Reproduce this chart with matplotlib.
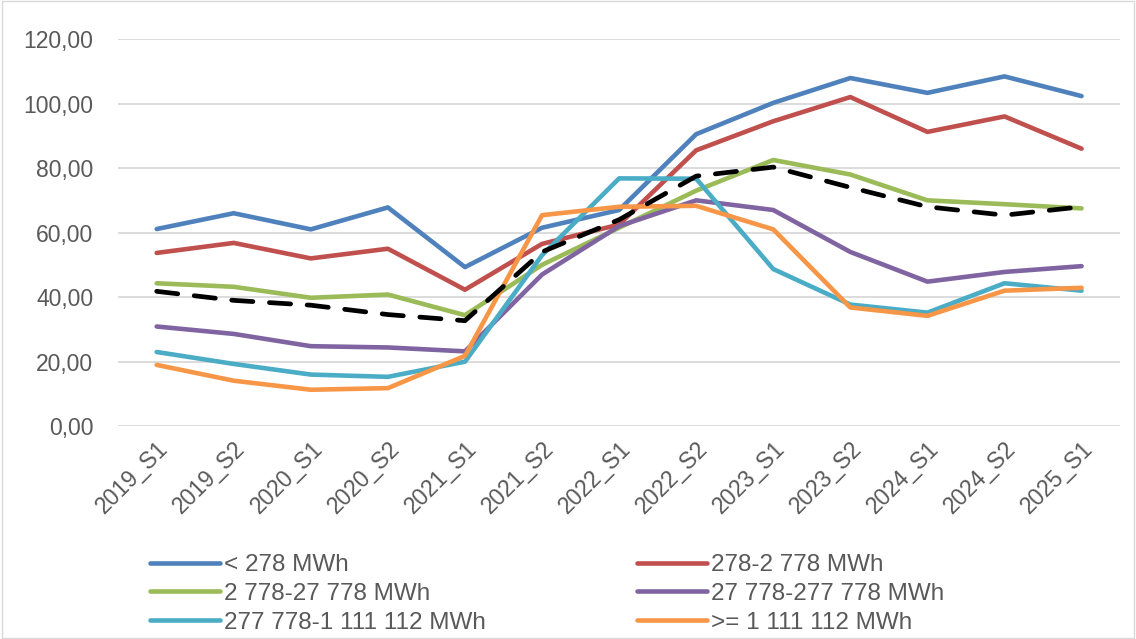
import matplotlib
matplotlib.use("Agg")
import matplotlib.pyplot as plt
from matplotlib.patches import Rectangle
from matplotlib.ticker import FuncFormatter

plt.rcParams['font.family'] = ['Liberation Sans', 'DejaVu Sans']

periods = ['2019_S1', '2019_S2', '2020_S1', '2020_S2', '2021_S1', '2021_S2', '2022_S1',
           '2022_S2', '2023_S1', '2023_S2', '2024_S1', '2024_S2', '2025_S1']

band_lt_278 = [61.1, 66.0, 61.0, 67.8, 49.3, 61.5, 67.0, 90.5, 100.2, 107.9, 103.3, 108.4, 102.3]
band_278_2778 = [53.7, 56.8, 52.0, 55.0, 42.3, 56.5, 62.5, 85.5, 94.5, 102.0, 91.2, 96.0, 86.0]
band_2778_27778 = [44.3, 43.2, 39.8, 40.8, 34.4, 50.0, 61.5, 73.0, 82.5, 78.0, 70.0, 68.8, 67.5]
band_27778_277778 = [30.9, 28.6, 24.8, 24.4, 23.2, 47.0, 62.0, 70.0, 67.0, 54.0, 44.8, 47.8, 49.6]
band_277778_1111112 = [23.0, 19.3, 16.0, 15.3, 20.0, 53.0, 76.8, 76.7, 48.7, 37.7, 35.2, 44.3, 42.0]
band_ge_1111112 = [19.0, 14.1, 11.3, 11.8, 21.8, 65.4, 68.0, 68.3, 61.0, 36.8, 34.2, 42.0, 42.9]
average = [41.8, 39.0, 37.5, 34.6, 32.7, 54.0, 64.0, 77.5, 80.3, 74.0, 68.0, 65.4, 68.0]

series = [
    ('< 278 MWh', band_lt_278, '#4F81BD'),
    ('278-2 778 MWh', band_278_2778, '#C0504D'),
    ('2 778-27 778 MWh', band_2778_27778, '#9BBB59'),
    ('27 778-277 778 MWh', band_27778_277778, '#8064A2'),
    ('277 778-1 111 112 MWh', band_277778_1111112, '#4BACC6'),
    ('>= 1 111 112 MWh', band_ge_1111112, '#F79646'),
]

fig = plt.figure(figsize=(11.36, 6.39), dpi=100)
ax = fig.add_axes([0.104, 0.333, 0.882, 0.606])

x = range(len(periods))
handles = []
for label, vals, color in series:
    h, = ax.plot(x, vals, color=color, lw=3.3, label=label, solid_capstyle='round')
    handles.append(h)
ax.plot(x, average, color='black', lw=3.4, linestyle=(0, (4.5, 3.5)), dash_capstyle='round')

ax.set_xlim(-0.5, len(periods) - 0.5)
ax.set_ylim(0, 120)
ax.set_yticks(range(0, 121, 20))
ax.yaxis.set_major_formatter(FuncFormatter(lambda v, p: f'{v:.2f}'.replace('.', ',')))
ax.set_xticks(list(x))
ax.set_xticklabels(periods, rotation=45, ha='right', rotation_mode='anchor')
ax.grid(axis='y', color='#d9d9d9', lw=1.3)
ax.set_axisbelow(True)
for s in ax.spines.values():
    s.set_visible(False)
ax.tick_params(axis='both', length=0, labelsize=16.5, colors='#595959', pad=8)
ax.tick_params(axis='y', pad=18)

order = [0, 2, 4, 1, 3, 5]
fig.legend([handles[i] for i in order], [series[i][0] for i in order],
           loc='upper left', bbox_to_anchor=(0.121, 0.152), ncol=2, frameon=False,
           fontsize=17.5, labelcolor='#595959', handlelength=2.9, handletextpad=0.16,
           columnspacing=6.2, labelspacing=0.28, borderpad=0)

fig.patches.append(Rectangle((0.002, 0.002), 0.996, 0.996, transform=fig.transFigure,
                             fill=False, edgecolor='#d9d9d9', lw=1))

fig.savefig('out.png', dpi=100)
